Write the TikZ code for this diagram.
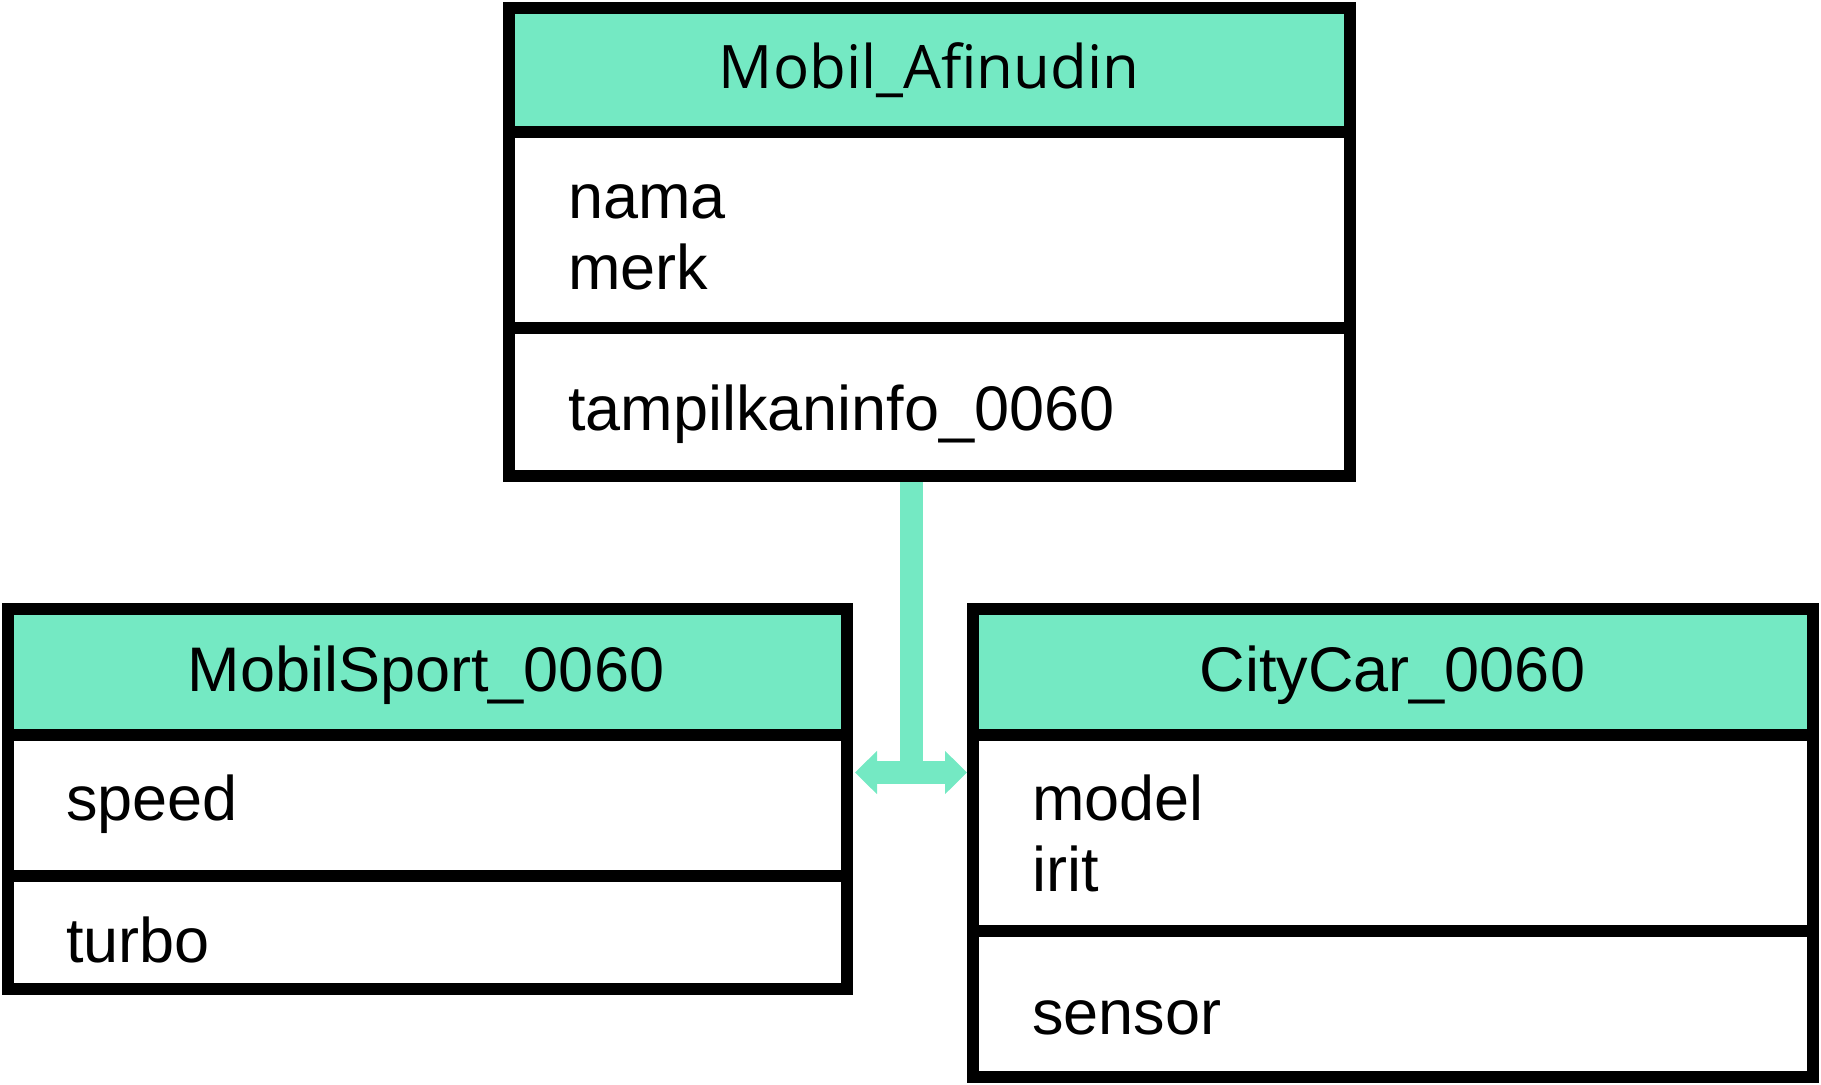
\documentclass[tikz,border=0pt]{standalone}
\usepackage{fontspec}
\setmainfont{Liberation Sans}
\newfontfamily\titlefont{Open Sans}
\usetikzlibrary{arrows.meta}
\definecolor{mint}{RGB}{116,233,195}
\tikzset{
  classbox/.style={draw=black, line width=6pt, fill=white, inner sep=0pt, outer sep=0pt},
  divider/.style={draw=black, line width=6pt},
  headfill/.style={fill=mint},
  conn/.style={draw=mint, line width=11.5pt},
  txt/.style={inner sep=0pt, font=\fontsize{31.5}{35}\selectfont},
  attr/.style={txt, anchor=base west},
  head/.style={txt, anchor=base},
  ctip/.tip={Triangle[length=11pt,width=21pt]}
}
\begin{document}
\begin{tikzpicture}[x=0.5pt,y=-0.5pt]
\useasboundingbox (0,0) rectangle (1821,1084);
% boxes
\node[classbox, minimum width=420.25pt, minimum height=234.25pt] (top) at (929.25,241.75) {};
\node[classbox, minimum width=419.75pt, minimum height=190pt] (lbox) at (427.25,799) {};
\node[classbox, minimum width=420pt, minimum height=234pt] (rbox) at (1393,843) {};
% connector
\coordinate (j) at (911.5,772.5);
\coordinate (la) at ([xshift=4pt]lbox.east |- j);
\coordinate (ra) at ([xshift=-3pt]rbox.west |- j);
\draw[conn] ([yshift=-3pt]top.south -| j) -- (j);
\draw[conn, ctip-ctip] (la) -- (ra);
% headers
\fill[headfill] (top.north west) rectangle (1349.5,132);
\fill[headfill] (lbox.north west) rectangle (847,735);
\fill[headfill] (rbox.north west) rectangle (1813,735);
% outlines again on top
\draw[divider] (top.north west) rectangle (top.south east);
\draw[divider] (lbox.north west) rectangle (lbox.south east);
\draw[divider] (rbox.north west) rectangle (rbox.south east);
\draw[divider] (top.west |- 0,132) -- (top.east |- 0,132);
\draw[divider] (top.west |- 0,328) -- (top.east |- 0,328);
\draw[divider] (lbox.west |- 0,735) -- (lbox.east |- 0,735);
\draw[divider] (lbox.west |- 0,876) -- (lbox.east |- 0,876);
\draw[divider] (rbox.west |- 0,735) -- (rbox.east |- 0,735);
\draw[divider] (rbox.west |- 0,931) -- (rbox.east |- 0,931);
% texts
\node[head, font=\titlefont\fontsize{30}{34}\selectfont] (t1) at (929,88) {Mobil\_Afinudin};
\node[attr] (t2) at (568,218) {nama};
\node[attr] (t3) at (568,289) {merk};
\node[attr] (t4) at (568,430) {tampilkaninfo\_0060};
\node[head] (l1) at (426,691) {MobilSport\_0060};
\node[attr] (l2) at (66,820) {speed};
\node[attr] (l3) at (66,962) {turbo};
\node[head] (r1) at (1392.5,691) {CityCar\_0060};
\node[attr] (r2) at (1032,820) {model};
\node[attr] (r3) at (1032,891) {irit};
\node[attr] (r4) at (1032,1034) {sensor};
\end{tikzpicture}
\end{document}
